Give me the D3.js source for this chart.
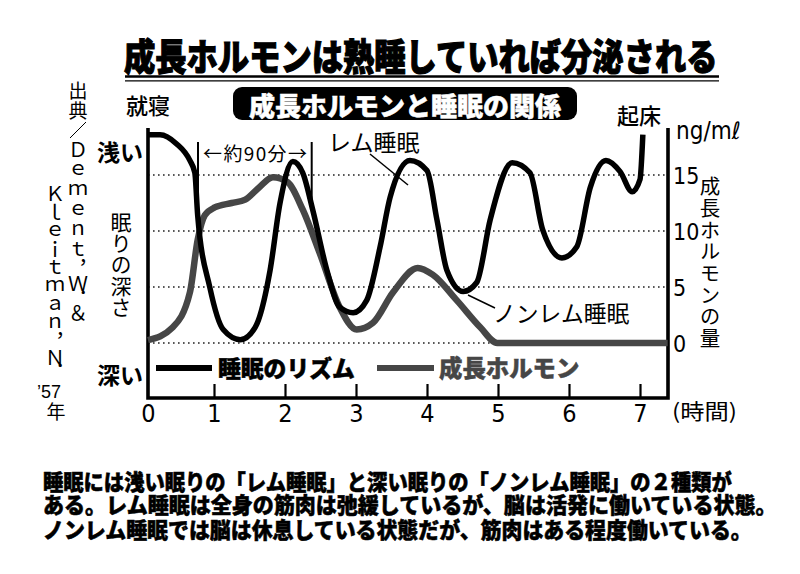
<!DOCTYPE html>
<html><head><meta charset="utf-8">
<script src="https://cdn.jsdelivr.net/npm/d3@7"></script>
<style>
html,body{margin:0;padding:0;background:#fff;}
#wrap{position:relative;width:800px;height:574px;overflow:hidden;}
svg{display:block;position:absolute;left:0;top:0;}
text{font-family:"Noto Sans CJK JP","Noto Sans",sans-serif;fill:#000;}
.num{font-family:"Liberation Sans Narrow","DejaVu Sans Condensed","Liberation Sans",sans-serif;}
.lat{font-family:"Liberation Sans","Noto Sans",sans-serif;}
.cap{position:absolute;white-space:nowrap;font-family:"Noto Sans CJK JP",sans-serif;font-weight:900;color:#000;
     -webkit-text-stroke:0.5px #000;transform-origin:0 50%;margin:0;padding:0;}
</style></head><body>
<div id="wrap"><svg id="chart" width="800" height="574"></svg></div>
<script>
// ---------- data ----------
const hours = [0,1,2,3,4,5,6,7];
const hormoneTicks = [0,5,10,15];
const sleepHours = [0.07,0.24,0.47,0.66,0.73,0.77,0.94,1.13,1.37,1.58,1.79,1.93,2.11,2.25,2.39,2.59,2.77,2.96,3.15,3.34,3.48,3.76,4.0,4.14,4.28,4.51,4.70,4.89,5.20,5.45,5.63,5.90,6.11,6.30,6.52,6.72,6.89,7.0,7.04];
const sleepDepth = [18.6,18.6,17.8,16.3,15.2,11.4,5.0,1.2,0.3,1.4,6.5,12.5,16.2,15.2,11.9,6.5,3.2,2.7,3.8,8.6,13.0,16.3,15.4,11.0,6.5,4.6,5.4,11.0,16.1,15.2,10.1,7.6,8.6,13.9,16.3,15.3,13.5,14.6,18.6];
const hormoneHours = [0.07,0.42,0.66,0.77,0.87,1.01,1.25,1.44,1.62,1.83,2.03,2.25,2.49,2.77,3.01,3.24,3.52,3.87,4.08,4.42,4.75,4.99,7.39];
const hormoneLevel = [0.25,1.4,4.5,9.2,11.4,12.1,12.5,12.8,13.8,14.8,14.4,11.9,8.0,3.2,1.2,1.8,4.5,6.7,6.1,3.8,1.4,0,0];
const cycleMarks = [0.775, 2.376];

const title = "成長ホルモンは熟睡していれば分泌される";
const subtitle = "成長ホルモンと睡眠の関係";
const legendNames = ["睡眠のリズム","成長ホルモン"];
const caption = [
  "睡眠には浅い眠りの「レム睡眠」と深い眠りの「ノンレム睡眠」の２種類が",
  "ある。レム睡眠は全身の筋肉は弛緩しているが、脳は活発に働いている状態。",
  "ノンレム睡眠では脳は休息している状態だが、筋肉はある程度働いている。"
];

// ---------- setup ----------
const svg = d3.select("#chart");
svg.append("rect").attr("width",800).attr("height",574).attr("fill","#fff");
const x = d3.scaleLinear().domain([0,7]).range([143,640]);
const y = d3.scaleLinear().domain([0,15]).range([343,175]);
const fL = 148, fR = 668, fT = 128, fB = 398;
const GRAY = "#464646";

// title (natural width, stretched vertically)
svg.append("g").attr("transform","translate(124,55) scale(1,1.18)")
  .append("text").attr("x",0).attr("y",0).attr("dominant-baseline","central")
  .attr("font-size",31.3).attr("font-weight",900)
  .attr("stroke","#000").attr("stroke-width",0.95).text(title);
svg.append("line").attr("x1",125).attr("x2",719).attr("y1",76.5).attr("y2",76.5).attr("stroke","#000").attr("stroke-width",2.4);
svg.append("line").attr("x1",125).attr("x2",719).attr("y1",80.8).attr("y2",80.8).attr("stroke","#000").attr("stroke-width",1.2);

// subtitle box
svg.append("rect").attr("x",233).attr("y",87).attr("width",344).attr("height",33).attr("rx",9).attr("fill","#000");
svg.append("text").attr("x",405).attr("y",104).attr("text-anchor","middle").attr("dominant-baseline","central")
  .attr("font-size",26).attr("font-weight",900)
  .style("fill","#fff").attr("stroke","#fff").attr("stroke-width",0.5).text(subtitle);

// corner labels
svg.append("text").attr("x",126).attr("y",104).attr("dominant-baseline","central").attr("font-size",22).attr("font-weight",500).text("就寝");
svg.append("text").attr("x",617).attr("y",114).attr("dominant-baseline","central").attr("font-size",22).attr("font-weight",500).text("起床");
svg.append("text").attr("class","num").attr("x",676).attr("y",139).attr("font-size",24).text("ng/mℓ");

// depth labels
svg.append("text").attr("x",120).attr("y",151).attr("text-anchor","middle").attr("dominant-baseline","central")
  .attr("font-size",23).attr("font-weight",700).text("浅い");
svg.append("text").attr("x",120).attr("y",374).attr("text-anchor","middle").attr("dominant-baseline","central")
  .attr("font-size",23).attr("font-weight",700).text("深い");

// vertical text columns (real vertical writing)
function vcol(str, cx, top, fs, ls){
  return svg.append("text").attr("x",cx).attr("y",top).attr("font-size",fs)
    .attr("writing-mode","vertical-rl").style("text-orientation","upright")
    .style("letter-spacing",ls+"px").text(str);
}
vcol("眠りの深さ",121,211.5,21,0.2);
vcol("成長ホルモンの量",710,176.2,20.5,1.2);
vcol("出典",78,81,19,1);
svg.append("line").attr("x1",86).attr("y1",122).attr("x2",70).attr("y2",138).attr("stroke","#000").attr("stroke-width",1);
vcol("Ｄｅｍｅｎｔ",78,140.1,20,-0.2);
vcol("，Ｗ．＆",78,259,20,-5);
vcol("Ｋｌｅｉｔｍａｎ",55,183.8,20,-1.6);
vcol("，Ｎ．",55,332.5,20,-5);
svg.append("text").attr("class","lat").attr("x",37).attr("y",398).attr("font-size",18).text("’57");
vcol("年",56,402,19,0);

// grid
svg.append("g").selectAll("line").data(hormoneTicks).join("line")
  .attr("x1",fL).attr("x2",fR).attr("y1",d=>y(d)).attr("y2",d=>y(d))
  .attr("stroke","#222").attr("stroke-width",1.6).attr("stroke-dasharray","1.6 3.4");

// axes
const xAxis = svg.append("g").attr("transform",`translate(0,${fB})`)
  .call(d3.axisBottom(x).tickValues(hours).tickSizeInner(-14).tickSizeOuter(0).tickPadding(0).tickFormat(d3.format("d")));
xAxis.select(".domain").remove();
xAxis.attr("font-family",null).attr("font-size",null);
xAxis.selectAll(".tick line").attr("stroke","#000").attr("stroke-width",2.2).filter(d=>d===0).remove();
xAxis.selectAll(".tick text").attr("class","num").attr("y",24).attr("dy",0).attr("font-size",25).style("fill","#000");
xAxis.selectAll(".tick").filter(d=>d===0).select("text").attr("x",5);

const yAxis = svg.append("g").attr("transform",`translate(${fR},0)`)
  .call(d3.axisRight(y).tickValues(hormoneTicks).tickSize(0).tickPadding(5));
yAxis.select(".domain").remove();
yAxis.attr("font-family",null).attr("font-size",null);
yAxis.selectAll(".tick text").attr("class","num").attr("x",5).attr("dy",0).attr("y",8.3).attr("font-size",23).style("fill","#000");

svg.append("text").attr("x",672).attr("y",410).attr("dominant-baseline","central").attr("font-size",21)
  .attr("textLength",65).attr("lengthAdjust","spacingAndGlyphs").text("(時間)");

// frame
svg.append("path").attr("d",`M${fL},${fT}V${fB}H${fR}V${fT}`).attr("fill","none")
  .attr("stroke","#000").attr("stroke-width",3.6).attr("stroke-linejoin","miter");

// curves
const line = d3.line().x(d=>x(d[0])).y(d=>y(d[1])).curve(d3.curveMonotoneX);
svg.append("path").datum(d3.zip(hormoneHours,hormoneLevel)).attr("d",line)
  .attr("fill","none").attr("stroke",GRAY).attr("stroke-width",6.5).attr("stroke-linecap","butt");
svg.append("path").datum(d3.zip(sleepHours,sleepDepth)).attr("d",line)
  .attr("fill","none").attr("stroke","#000").attr("stroke-width",5.5).attr("stroke-linecap","butt");

// 約90分 annotation
svg.selectAll(".cyc").data(cycleMarks).join("line").attr("class","cyc")
  .attr("x1",d=>x(d)).attr("x2",d=>x(d)).attr("y1",142).attr("y2",(d,i)=>i===0?212:202)
  .attr("stroke","#000").attr("stroke-width",2);
svg.append("text").attr("x",255).attr("y",152.5).attr("text-anchor","middle").attr("dominant-baseline","central").attr("font-size",19)
  .attr("textLength",104).attr("lengthAdjust","spacing").text("←約90分→");

// REM / non-REM labels
svg.append("text").attr("x",328).attr("y",141).attr("dominant-baseline","central").attr("font-size",23).text("レム睡眠");
svg.append("line").attr("x1",370).attr("y1",154).attr("x2",408).attr("y2",185).attr("stroke","#000").attr("stroke-width",1.5);
svg.append("text").attr("x",493).attr("y",312).attr("dominant-baseline","central").attr("font-size",22.8).text("ノンレム睡眠");
svg.append("line").attr("x1",468).attr("y1",295).attr("x2",495).attr("y2",308).attr("stroke","#000").attr("stroke-width",1.5);

// legend
const legend = [{x1:156,x2:212,tx:218,fs:22.8,c:"#000"},{x1:377,x2:434,tx:439,fs:23.4,c:GRAY}];
legend.forEach((l,i)=>{
  svg.append("line").attr("x1",l.x1).attr("x2",l.x2).attr("y1",368).attr("y2",368).attr("stroke",l.c).attr("stroke-width",6);
  svg.append("text").attr("x",l.tx).attr("y",367).attr("dominant-baseline","central").attr("font-size",l.fs).attr("font-weight",900)
    .style("fill",l.c).attr("stroke",l.c).attr("stroke-width",0.5).text(legendNames[i]);
});

// caption: HTML lines with fixed line boxes (tight leading like the print)
const capLen = [690,736,711];
const lineGap = 24.8;
caption.forEach((s,i)=>{
  const n = Array.from(s).length;
  const fs = capLen[i]/n;
  const sy = 22/fs;
  const cy = 480 + i*lineGap;
  d3.select("#wrap").append("div").attr("class","cap")
    .style("left","43px").style("top",(cy - lineGap/2)+"px")
    .style("font-size",fs+"px").style("line-height",(lineGap/sy)+"px").style("height",(lineGap/sy)+"px")
    .style("transform",`translateY(${(lineGap - lineGap/sy)/2}px) scaleY(${sy})`)
    .text(s);
});
</script>
</body></html>
